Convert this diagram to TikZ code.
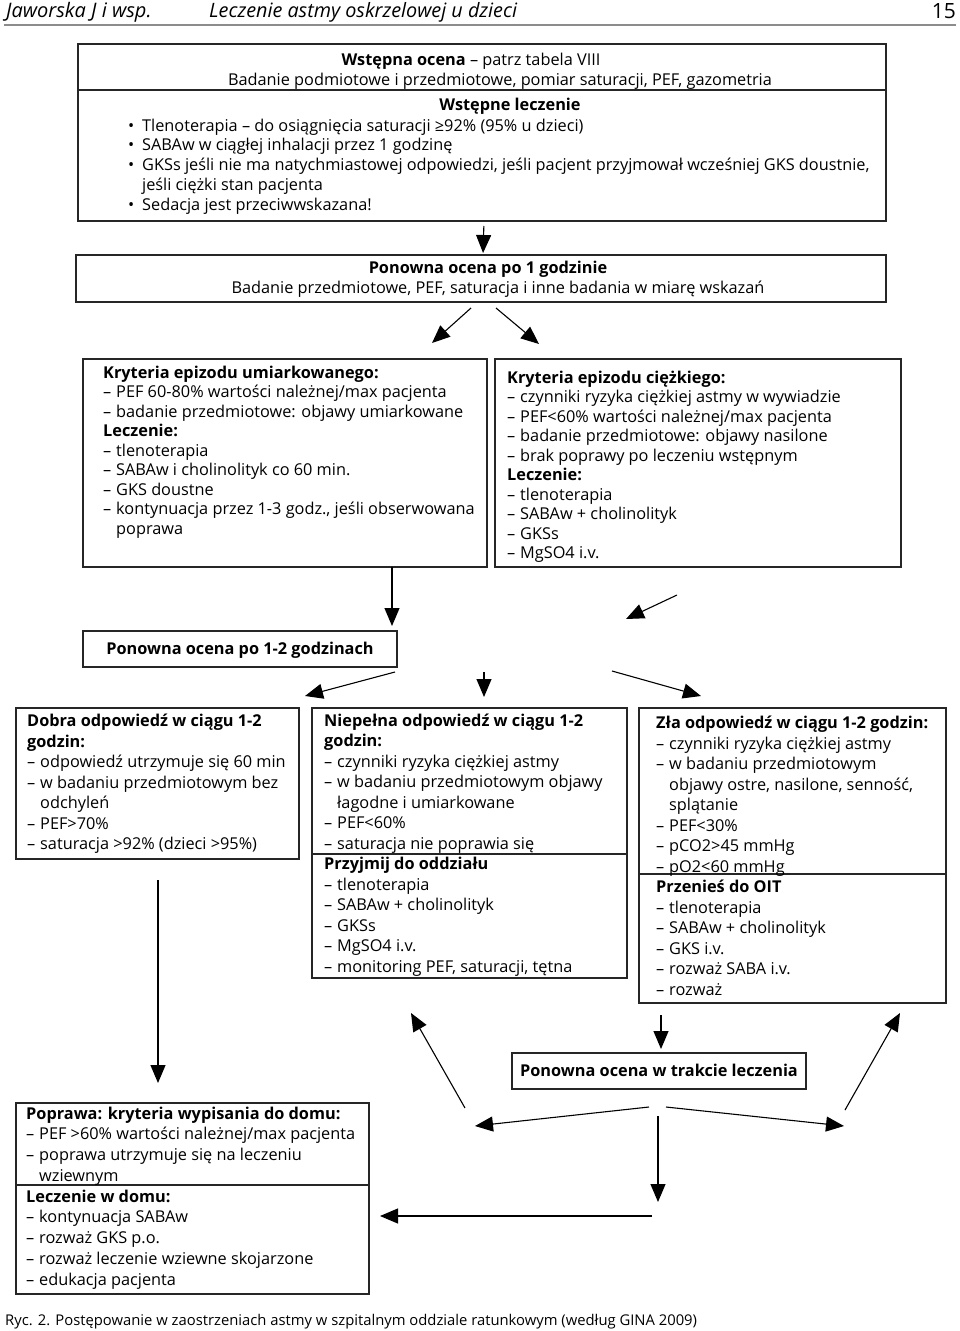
\documentclass[tikz,border=0pt]{standalone}
\usepackage{fontspec}
\setmainfont{Open Sans}
\usetikzlibrary{arrows.meta}
\newcommand\dsh{\makebox[13pt][l]{–}}
\newcommand\ind{\hspace*{13pt}}
\newcommand\bl{\makebox[14pt][l]{•}}
\begin{document}
\begin{tikzpicture}[x=1pt,y=-1pt,
  box/.style={draw=black!85, line width=1.1pt, anchor=north west, inner sep=0pt, outer sep=0pt},
  txt/.style={anchor=base west, inner sep=0pt, align=left, font=\fontsize{16.3}{20.5}\selectfont},
  ctxt/.style={anchor=base, inner sep=0pt, font=\fontsize{16.3}{20}\selectfont},
  arr/.style={line width=1.1pt, -{Triangle[length=18pt,width=15pt]}},
  rule/.style={draw=black!85, line width=1.1pt}
]
\useasboundingbox (0,0) rectangle (960,1331);
% header
\node[anchor=base west, inner sep=0pt, font=\fontsize{20}{22}\selectfont\itshape] (h1) at (6,17) {Jaworska J i wsp.};
\node[anchor=base west, inner sep=0pt, font=\fontsize{19.8}{22}\selectfont\itshape] (h2) at (209,17) {Leczenie astmy oskrzelowej u dzieci};
\node[anchor=base east, inner sep=0pt, font=\fontsize{21}{22}\selectfont] (h3) at (956,18) {15};
\draw[black!45, line width=2pt] (4,25) -- (956,25);

% box 1
\node[box, minimum width=808pt, minimum height=177pt] (b1) at (78,44) {};
\draw[rule] (78,90) -- (886,90);
\node[ctxt] (t1a) at (471,65) {\textbf{Wstępna ocena} – patrz tabela VIII};
\node[ctxt] (t1b) at (500,85) {Badanie podmiotowe i przedmiotowe, pomiar saturacji, PEF, gazometria};
\node[ctxt] (t1c) at (510,110) {\textbf{Wstępne leczenie}};
\node[txt, font=\fontsize{16.3}{19.9}\selectfont] (t1d) at (128,210.6) {\bl Tlenoterapia – do osiągnięcia saturacji ≥92\% (95\% u dzieci)\\
\bl SABAw w ciągłej inhalacji przez 1 godzinę\\
\bl GKSs jeśli nie ma natychmiastowej odpowiedzi, jeśli pacjent przyjmował wcześniej GKS doustnie,\\
\hspace*{14pt}jeśli ciężki stan pacjenta\\
\bl Sedacja jest przeciwwskazana!};

% box 2
\node[box, minimum width=810pt, minimum height=47pt] (b2) at (76,255) {};
\node[ctxt] (t2a) at (488,273) {\textbf{Ponowna ocena po 1 godzinie}};
\node[ctxt] (t2b) at (498,293) {Badanie przedmiotowe, PEF, saturacja i inne badania w miarę wskazań};
\draw[arr, shorten <=5pt, shorten >=2pt] ([xshift=2pt]b1.south) -- ([xshift=2pt]b2.north);

\coordinate (d1s) at (471,308); \coordinate (d1e) at (432,343);
\coordinate (d2s) at (496,308); \coordinate (d2e) at (539,344);
\draw[arr] (d1s) -- (d1e);
\draw[arr] (d2s) -- (d2e);

% box 3
\node[box, minimum width=404pt, minimum height=208pt] (b3a) at (83,359) {};
\node[box, minimum width=406pt, minimum height=208pt] (b3b) at (495,359) {};
\node[txt, font=\fontsize{16.3}{19.5}\selectfont] (t3a) at (103,534) {\textbf{Kryteria epizodu umiarkowanego:}\\
\dsh PEF 60-80\% wartości należnej/max pacjenta\\
\dsh badanie przedmiotowe: objawy umiarkowane\\
\textbf{Leczenie:}\\
\dsh tlenoterapia\\
\dsh SABAw i cholinolityk co 60 min.\\
\dsh GKS doustne\\
\dsh kontynuacja przez 1-3 godz., jeśli obserwowana\\
\ind poprawa};
\node[txt, font=\fontsize{16.3}{19.5}\selectfont] (t3b) at (507,558.5) {\textbf{Kryteria epizodu ciężkiego:}\\
\dsh czynniki ryzyka ciężkiej astmy w wywiadzie\\
\dsh PEF<60\% wartości należnej/max pacjenta\\
\dsh badanie przedmiotowe: objawy nasilone\\
\dsh brak poprawy po leczeniu wstępnym\\
\textbf{Leczenie:}\\
\dsh tlenoterapia\\
\dsh SABAw + cholinolityk\\
\dsh GKSs\\
\dsh MgSO4 i.v.};

% box 4
\node[box, minimum width=314pt, minimum height=36pt] (b4) at (83,631) {};
\node[ctxt] (t4) at (240,654) {\textbf{Ponowna ocena po 1-2 godzinach}};
\coordinate (c3) at (392,567);
\draw[arr, shorten >=5pt] (c3) -- (c3 |- b4.north);
\coordinate (e1s) at (677,595); \coordinate (e1e) at (626,619);
\draw[arr] (e1s) -- (e1e);

\coordinate (f1s) at (395,672); \coordinate (f1e) at (305,696);
\coordinate (f2s) at (484,672); \coordinate (f2e) at (484,697);
\coordinate (f3s) at (612,671); \coordinate (f3e) at (701,696);
\draw[arr] (f1s) -- (f1e);
\draw[arr] (f2s) -- (f2e);
\draw[arr] (f3s) -- (f3e);

% boxes 5
\node[box, minimum width=283pt, minimum height=151pt] (b5a) at (16,708) {};
\node[box, minimum width=315pt, minimum height=270pt] (b5b) at (312,708) {};
\node[box, minimum width=307pt, minimum height=295pt] (b5c) at (639,708) {};
\draw[rule] (312,854) -- (627,854);
\draw[rule] (639,874) -- (946,874);

\node[txt] (t5a) at (27,849.5) {\textbf{Dobra odpowiedź w ciągu 1-2}\\
\textbf{godzin:}\\
\dsh odpowiedź utrzymuje się 60 min\\
\dsh w badaniu przedmiotowym bez\\
\ind odchyleń\\
\dsh PEF>70\%\\
\dsh saturacja >92\% (dzieci >95\%)};
\node[txt] (t5b) at (324,972) {\textbf{Niepełna odpowiedź w ciągu 1-2}\\
\textbf{godzin:}\\
\dsh czynniki ryzyka ciężkiej astmy\\
\dsh w badaniu przedmiotowym objawy\\
\ind łagodne i umiarkowane\\
\dsh PEF<60\%\\
\dsh saturacja nie poprawia się\\
\textbf{Przyjmij do oddziału}\\
\dsh tlenoterapia\\
\dsh SABAw + cholinolityk\\
\dsh GKSs\\
\dsh MgSO4 i.v.\\
\dsh monitoring PEF, saturacji, tętna};
\node[txt] (t5c) at (656,995) {\textbf{Zła odpowiedź w ciągu 1-2 godzin:}\\
\dsh czynniki ryzyka ciężkiej astmy\\
\dsh w badaniu przedmiotowym\\
\ind objawy ostre, nasilone, senność,\\
\ind splątanie\\
\dsh PEF<30\%\\
\dsh pCO2>45 mmHg\\
\dsh pO2<60 mmHg\\
\textbf{Przenieś do OIT}\\
\dsh tlenoterapia\\
\dsh SABAw + cholinolityk\\
\dsh GKS i.v.\\
\dsh rozważ SABA i.v.\\
\dsh rozważ};

% bottom section
\node[box, minimum width=294pt, minimum height=36pt] (b7) at (512,1053) {};
\node[ctxt] (t7) at (659,1076) {\textbf{Ponowna ocena w trakcie leczenia}};
\node[box, minimum width=353pt, minimum height=191pt] (b6) at (16,1103) {};
\draw[rule] (16,1185) -- (369,1185);
\node[txt, font=\fontsize{16.3}{20.75}\selectfont] (t6) at (26,1285) {\textbf{Poprawa: kryteria wypisania do domu:}\\
\dsh PEF >60\% wartości należnej/max pacjenta\\
\dsh poprawa utrzymuje się na leczeniu\\
\ind wziewnym\\
\textbf{Leczenie w domu:}\\
\dsh kontynuacja SABAw\\
\dsh rozważ GKS p.o.\\
\dsh rozważ leczenie wziewne skojarzone\\
\dsh edukacja pacjenta};

\coordinate (g0s) at (158,880); \coordinate (g0e) at (158,1083);
\draw[arr] (g0s) -- (g0e);
\coordinate (g1s) at (465,1108); \coordinate (g1e) at (411,1013);
\coordinate (g2s) at (845,1110); \coordinate (g2e) at (900,1013);
\draw[arr] (g1s) -- (g1e);
\draw[arr] (g2s) -- (g2e);
\coordinate (g3s) at (661,1015);
\draw[arr, shorten >=4pt] (g3s) -- (g3s |- b7.north);
\coordinate (g4s) at (649,1107); \coordinate (g4e) at (475,1126);
\coordinate (g5s) at (666,1107); \coordinate (g5e) at (844,1126);
\coordinate (g6s) at (658,1116); \coordinate (g6e) at (658,1202);
\coordinate (g7s) at (652,1216); \coordinate (g7e) at (380,1216);
\draw[arr] (g4s) -- (g4e);
\draw[arr] (g5s) -- (g5e);
\draw[arr] (g6s) -- (g6e);
\draw[arr] (g7s) -- (g7e);

\node[anchor=base west, inner sep=0pt, font=\fontsize{14.8}{16}\selectfont] (cap) at (5,1325) {Ryc. 2. Postępowanie w zaostrzeniach astmy w szpitalnym oddziale ratunkowym (według GINA 2009)};
\end{tikzpicture}
\end{document}
